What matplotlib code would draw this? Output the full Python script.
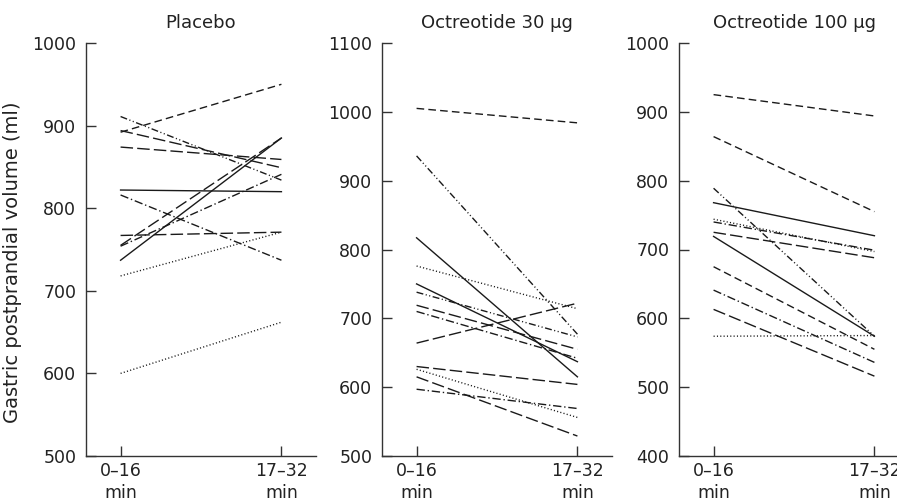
import matplotlib
matplotlib.use("Agg")
import matplotlib.pyplot as plt

plt.rcParams['font.family'] = ['DejaVu Sans']

panel_titles = ["Placebo", "Octreotide 30 µg", "Octreotide 100 µg"]
time_labels = ["0–16\nmin", "17–32\nmin"]
ylabel = "Gastric postprandial volume (ml)"

# (start 0-16 min, end 17-32 min, style)
placebo_start = [892, 911, 894, 874, 822, 816, 755, 754, 737, 767, 718, 600]
placebo_end   = [950, 834, 849, 859, 820, 737, 885, 841, 885, 771, 771, 662]
placebo_style = ["dashed", "dashdotdot", "longdash", "longdash", "solid", "dashdot",
                 "longdash", "dashdot", "solid", "longdash", "dotted", "dotted"]

oct30_start = [1005, 936, 817, 776, 750, 738, 719, 710, 664, 630, 626, 615, 597]
oct30_end   = [984, 677, 615, 714, 637, 673, 655, 642, 722, 604, 556, 529, 569]
oct30_style = ["dashed", "dashdotdot", "solid", "dotted", "solid", "dashdotdot", "longdash",
               "dashdot", "longdash", "longdash", "dotted", "longdash", "dashdot"]

oct100_start = [925, 864, 789, 768, 744, 740, 725, 719, 675, 641, 613, 574]
oct100_end   = [894, 755, 574, 720, 697, 699, 688, 574, 555, 536, 516, 575]
oct100_style = ["dashed", "dashed", "dashdotdot", "solid", "dotted", "dashdot", "longdash",
                "solid", "dashed", "dashdot", "longdash", "dotted"]

ylims = [(500, 1000), (500, 1100), (400, 1000)]
yticks = [[500, 600, 700, 800, 900, 1000],
          [500, 600, 700, 800, 900, 1000, 1100],
          [400, 500, 600, 700, 800, 900, 1000]]

styles = {
    "solid": "-",
    "dashed": (0, (5.5, 3)),
    "longdash": (0, (9, 3)),
    "dashdot": (0, (6, 2, 1, 2)),
    "dashdotdot": (0, (5, 1.8, 0.8, 1.8, 0.8, 1.8)),
    "dotted": (0, (0.8, 1.6)),
}

W, H = 897, 503
fig = plt.figure(figsize=(W / 100, H / 100), dpi=100)

lefts = [86, 382, 679]
axw = 230
top_px, bot_px = 43, 456

data = [(placebo_start, placebo_end, placebo_style),
        (oct30_start, oct30_end, oct30_style),
        (oct100_start, oct100_end, oct100_style)]

col = "#1a1a1a"
for i in range(3):
    ax = fig.add_axes([lefts[i] / W, 1 - bot_px / H, axw / W, (bot_px - top_px) / H])
    s, e, st = data[i]
    for a, b, k in zip(s, e, st):
        ax.plot([0, 1], [a, b], color=col, lw=1.0, linestyle=styles[k])
    ax.set_xlim(-0.215, 1.215)
    ax.set_ylim(*ylims[i])
    ax.set_yticks(yticks[i])
    ax.set_xticks([0, 1])
    ax.set_xticklabels(time_labels, linespacing=1.3)
    for sp in ["top", "right"]:
        ax.spines[sp].set_visible(False)
    for sp in ["left", "bottom"]:
        ax.spines[sp].set_color("#333333")
        ax.spines[sp].set_linewidth(1.0)
    ax.tick_params(direction="in", length=7, width=1.0, color="#333333",
                   labelsize=12.5, labelcolor="#222222", pad=7)
    ax.tick_params(axis="x", pad=4)
    ax.set_title(panel_titles[i], fontsize=13, color="#222222", pad=11)
    if i == 0:
        ax.set_ylabel(ylabel, fontsize=14, color="#222222")
        ax.yaxis.set_label_coords((22 - 86) / axw, 0.47)

fig.savefig("out.png", dpi=100)
